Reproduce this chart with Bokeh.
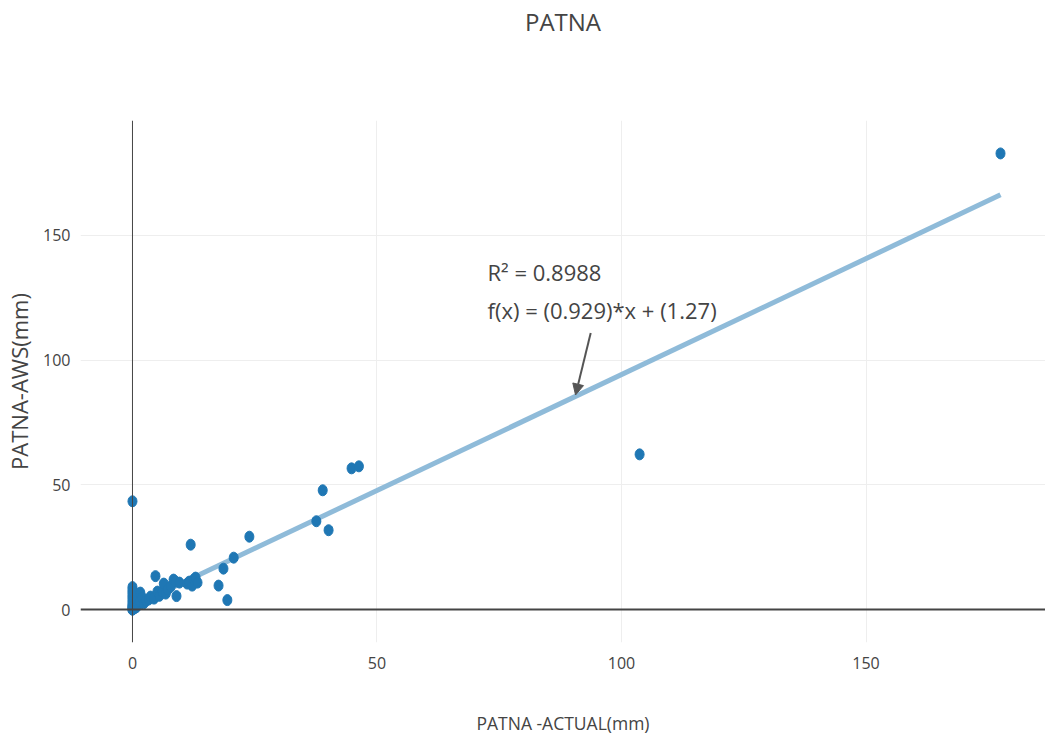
from bokeh.plotting import figure
from bokeh.models import Range1d, FixedTicker, Span, Label, Arrow, NormalHead, ColumnDataSource, Title
from bokeh.embed import file_html
from bokeh.resources import INLINE

# ---- data ----
actual_mm = [0, 0, 0, 0, 0, 0, 0, 0, 0, 0, 0, 0, 0, 0.2, 0,
             0.4, 0.6, 0.8, 1.0, 1.2, 1.5, 1.6, 2.0, 2.3, 2.8, 3.3, 3.7, 4.4, 4.7,
             5.1, 5.5, 6.1, 6.4, 6.8, 7.2, 7.8, 8.4, 8.8, 9.0, 9.6, 11.2, 11.6,
             11.9, 12.2, 12.5, 12.9, 13.3, 17.6, 18.6, 19.4, 20.7, 23.9, 37.6,
             38.9, 40.1, 44.8, 46.3, 103.7, 177.5]
aws_mm = [0, 0, 0.5, 1, 1.5, 2, 3, 4, 5, 6, 7, 8, 9, 7.2, 43.4,
          0.5, 2.5, 1, 4, 2, 3.2, 6.8, 4.8, 2.5, 3.6, 4, 5.2, 4.4, 13.4,
          7.2, 5.5, 7.2, 10.4, 6.4, 8, 9.2, 12, 11.2, 5.4, 10.8, 10.4, 11.2,
          26, 9.6, 12, 12.8, 10.8, 9.6, 16.4, 3.8, 20.8, 29.2, 35.4,
          47.8, 31.8, 56.6, 57.4, 62.2, 182.8]
fit_x = [0.0, 177.5]
fit_y = [1.27, 166.2]
tick_values = [0, 50, 100, 150]
chart_title = "PATNA"
x_title = "PATNA -ACTUAL(mm)"
y_title = "PATNA-AWS(mm)"
fit_lines = ["R\u00b2 = 0.8988", "f(x) = (0.929)*x + (1.27)"]

FONT = "Open Sans"
TXT = "#444444"

p = figure(width=1045, height=737, output_backend="svg", toolbar_location=None,
           x_range=Range1d(-10.63, 186.7), y_range=Range1d(-13.2, 196.0),
           min_border_left=80, min_border_right=0, min_border_top=120, min_border_bottom=94,
           title=None)
# spacer between frame and the title, then the title itself
p.add_layout(Title(text=" ", align="center", text_font=FONT, text_font_size="24px",
                   text_color=TXT, standoff=48), "above")
p.add_layout(Title(text=chart_title, align="center", text_font=FONT,
                   text_font_size="24px", text_color=TXT, text_font_style="normal",
                   standoff=0), "above")
p.outline_line_color = None
p.background_fill_color = "white"
p.border_fill_color = "white"

for ax in (p.xaxis, p.yaxis):
    ax.ticker = FixedTicker(ticks=tick_values)
    ax.axis_line_color = None
    ax.major_tick_line_color = None
    ax.minor_tick_line_color = None
    ax.major_label_text_font = FONT
    ax.major_label_text_font_size = "16px"
    ax.major_label_text_color = TXT
    ax.axis_label_text_font = FONT
    ax.axis_label_text_font_style = "normal"
    ax.axis_label_text_color = TXT
p.xaxis.major_label_standoff = 8
p.yaxis.major_label_standoff = 4
p.xaxis.axis_label = x_title
p.xaxis.axis_label_text_font_size = "17.5px"
p.xaxis.axis_label_standoff = 39
p.yaxis.axis_label = y_title
p.yaxis.axis_label_text_font_size = "22px"
p.yaxis.axis_label_standoff = 6

for g in (p.xgrid, p.ygrid):
    g.ticker = FixedTicker(ticks=tick_values)
    g.grid_line_color = "#eeeeee"
    g.grid_line_width = 1

# zero lines
p.add_layout(Span(location=0, dimension="height", line_color="#444444", line_width=1))
p.add_layout(Span(location=0, dimension="width", line_color="#444444", line_width=2))

# fit line
p.line(fit_x, fit_y, line_color="#8fbbd9", line_width=5)

# points
src = ColumnDataSource(dict(x=actual_mm, y=aws_mm))
p.ellipse(x="x", y="y", width=9, height=11, width_units="screen", height_units="screen",
          source=src, fill_color="#1f77b4", line_color="#1f77b4")

# annotation with arrow
p.add_layout(Label(x=72.6, y=135.2, text=fit_lines[0], text_font=FONT, text_font_size="22px",
                   text_color=TXT, text_align="left", text_baseline="middle"))
p.add_layout(Label(x=72.6, y=120.0, text=fit_lines[1], text_font=FONT, text_font_size="22px",
                   text_color=TXT, text_align="left", text_baseline="middle"))
p.add_layout(Arrow(x_start=93.7, y_start=110.8, x_end=90.6, y_end=86.0,
                   line_color="#555555", line_width=2,
                   end=NormalHead(size=11, fill_color="#555555", line_color="#555555")))

open("out.html", "w").write(file_html(p, INLINE))
